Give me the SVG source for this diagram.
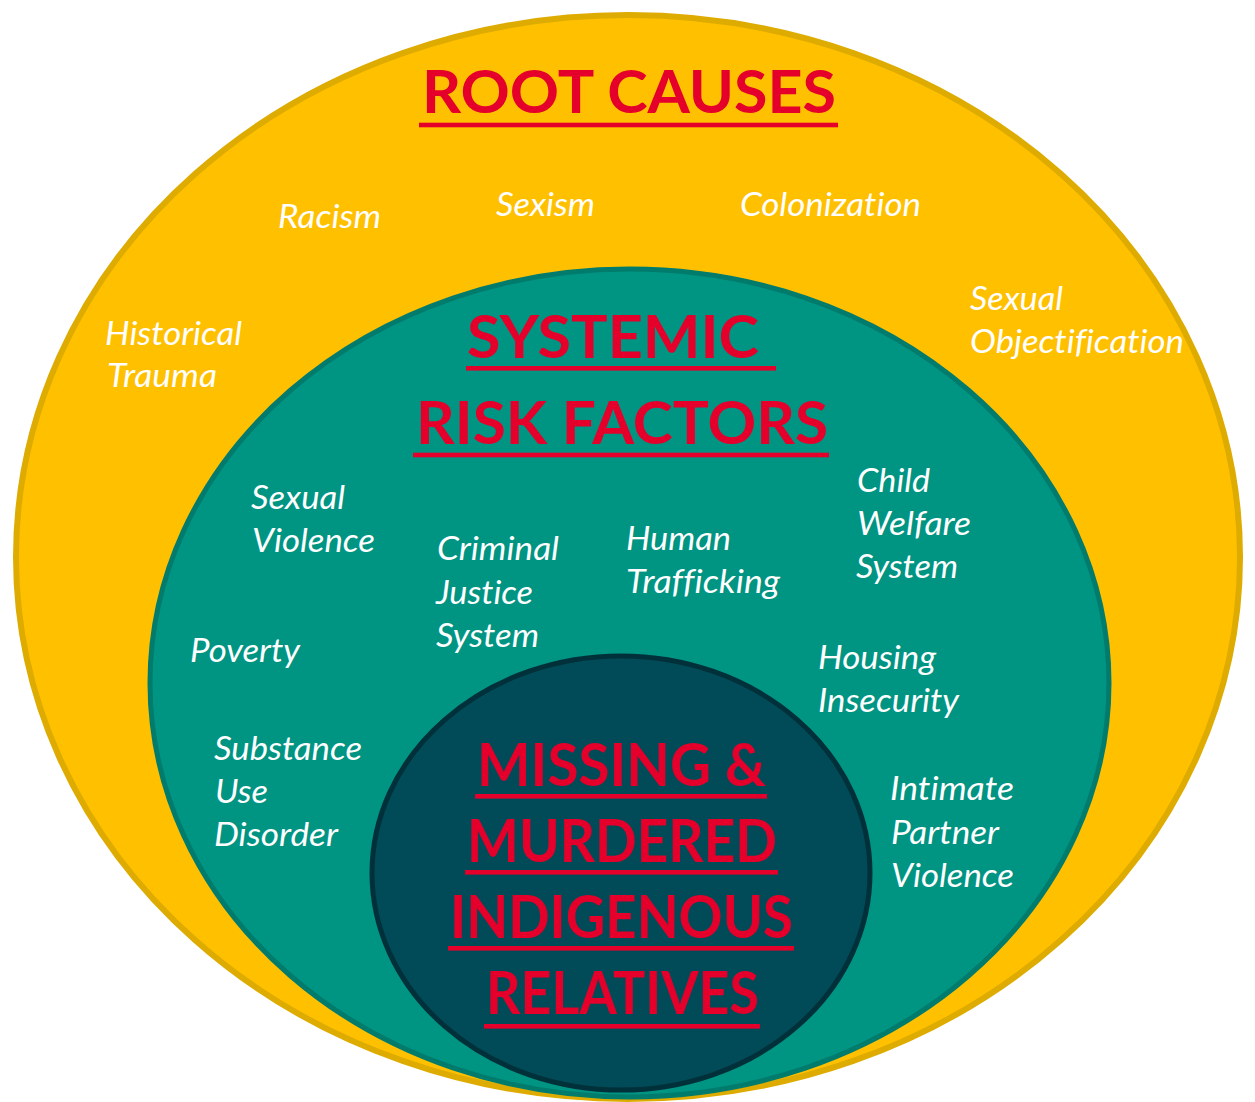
<svg xmlns="http://www.w3.org/2000/svg" width="1255" height="1102" viewBox="0 0 1255 1102">
<style>
.head{font-family:Lato,"Open Sans","Liberation Sans",sans-serif;font-weight:700;font-size:60px;fill:#E4002B;font-variant-ligatures:none}
.ul{fill:#E4002B}
.item{font-family:Lato,"Open Sans","Liberation Sans",sans-serif;font-style:italic;font-size:32px;fill:#FFFFFF;font-variant-ligatures:none}
</style>
<rect width="1255" height="1102" fill="#FFFFFF"/>
<g id="root-causes">
<ellipse cx="628" cy="557" rx="612" ry="542" fill="#FFC000" stroke="#DEAB00" stroke-width="6"/>
<text class="head" x="422" y="113" textLength="414" lengthAdjust="spacingAndGlyphs">ROOT CAUSES</text>
<rect class="ul" x="419" y="122.7" width="419" height="4.6"/>
<text class="item" x="278" y="228" textLength="103" lengthAdjust="spacingAndGlyphs">Racism</text>
<text class="item" x="496" y="216" textLength="99" lengthAdjust="spacingAndGlyphs">Sexism</text>
<text class="item" x="740" y="216" textLength="181" lengthAdjust="spacingAndGlyphs">Colonization</text>
<text class="item" x="970" y="310" textLength="93" lengthAdjust="spacingAndGlyphs">Sexual</text>
<text class="item" x="970" y="353" textLength="214" lengthAdjust="spacingAndGlyphs">Objectification</text>
<text class="item" x="105" y="345" textLength="137" lengthAdjust="spacingAndGlyphs">Historical</text>
<text class="item" x="107" y="387" textLength="110" lengthAdjust="spacingAndGlyphs">Trauma</text>
</g>
<g id="systemic-risk-factors">
<ellipse cx="629.5" cy="683" rx="479.5" ry="414" fill="#009483" stroke="#007B6C" stroke-width="5"/>
<text class="head" x="467" y="358" textLength="292" lengthAdjust="spacingAndGlyphs">SYSTEMIC</text>
<rect class="ul" x="466" y="366" width="310" height="4.6"/>
<text class="head" x="416" y="444" textLength="412" lengthAdjust="spacingAndGlyphs">RISK FACTORS</text>
<rect class="ul" x="413" y="452.7" width="416" height="4.6"/>
<text class="item" x="251" y="509" textLength="94" lengthAdjust="spacingAndGlyphs">Sexual</text>
<text class="item" x="252" y="552" textLength="123" lengthAdjust="spacingAndGlyphs">Violence</text>
<text class="item" x="437" y="560" textLength="122" lengthAdjust="spacingAndGlyphs">Criminal</text>
<text class="item" x="436" y="604" textLength="97" lengthAdjust="spacingAndGlyphs">Justice</text>
<text class="item" x="436" y="647" textLength="103" lengthAdjust="spacingAndGlyphs">System</text>
<text class="item" x="626" y="550" textLength="105" lengthAdjust="spacingAndGlyphs">Human</text>
<text class="item" x="626" y="593" textLength="154" lengthAdjust="spacingAndGlyphs">Trafficking</text>
<text class="item" x="857" y="492" textLength="73" lengthAdjust="spacingAndGlyphs">Child</text>
<text class="item" x="857" y="535" textLength="114" lengthAdjust="spacingAndGlyphs">Welfare</text>
<text class="item" x="856" y="578" textLength="102" lengthAdjust="spacingAndGlyphs">System</text>
<text class="item" x="190" y="662" textLength="110" lengthAdjust="spacingAndGlyphs">Poverty</text>
<text class="item" x="818" y="669" textLength="118" lengthAdjust="spacingAndGlyphs">Housing</text>
<text class="item" x="818" y="712" textLength="141" lengthAdjust="spacingAndGlyphs">Insecurity</text>
<text class="item" x="214" y="760" textLength="148" lengthAdjust="spacingAndGlyphs">Substance</text>
<text class="item" x="215" y="803" textLength="53" lengthAdjust="spacingAndGlyphs">Use</text>
<text class="item" x="214" y="846" textLength="124" lengthAdjust="spacingAndGlyphs">Disorder</text>
<text class="item" x="890" y="800" textLength="124" lengthAdjust="spacingAndGlyphs">Intimate</text>
<text class="item" x="891" y="844" textLength="108" lengthAdjust="spacingAndGlyphs">Partner</text>
<text class="item" x="891" y="887" textLength="123" lengthAdjust="spacingAndGlyphs">Violence</text>
</g>
<g id="mmir">
<ellipse cx="621" cy="873" rx="249" ry="217" fill="#004B57" stroke="#00313A" stroke-width="5"/>
<text class="head" x="477" y="786" textLength="289" lengthAdjust="spacingAndGlyphs">MISSING &amp;</text>
<rect class="ul" x="475" y="794" width="292" height="4.6"/>
<text class="head" x="467" y="862" textLength="310" lengthAdjust="spacingAndGlyphs">MURDERED</text>
<rect class="ul" x="465" y="870" width="313" height="4.6"/>
<text class="head" x="450" y="938" textLength="343" lengthAdjust="spacingAndGlyphs">INDIGENOUS</text>
<rect class="ul" x="448" y="946" width="346" height="4.6"/>
<text class="head" x="486" y="1014" textLength="273" lengthAdjust="spacingAndGlyphs">RELATIVES</text>
<rect class="ul" x="484" y="1024" width="276" height="4.6"/>
</g>
<g id="connectors"/>
</svg>
